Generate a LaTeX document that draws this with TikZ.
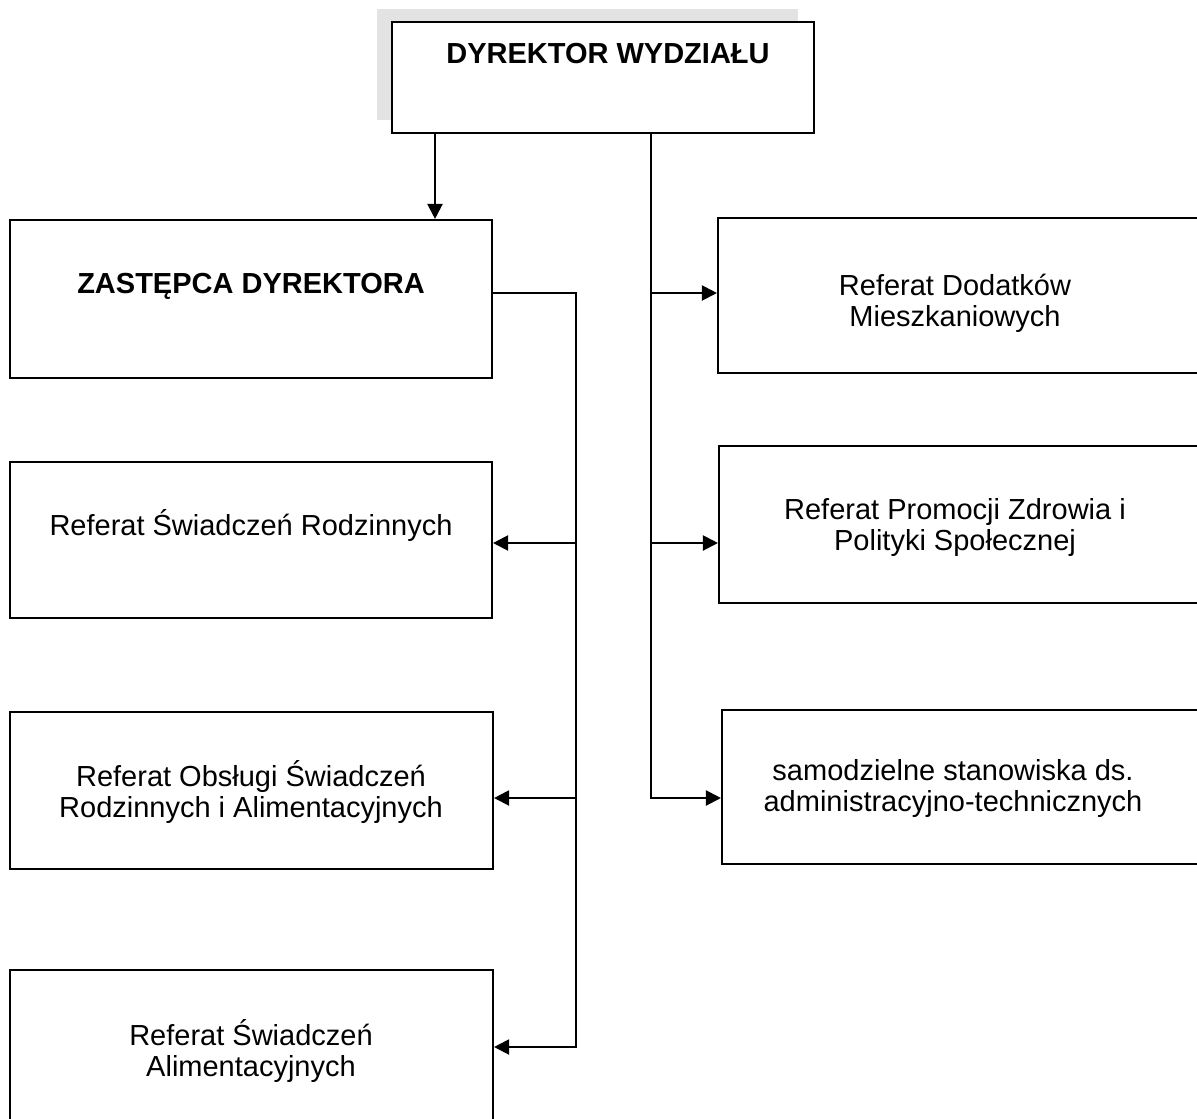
\documentclass[tikz,border=0pt]{standalone}
\usepackage{fontspec}
\setmainfont{Liberation Sans}
\usetikzlibrary{arrows.meta}
\begin{document}
\begin{tikzpicture}[x=1pt,y=-1pt,
  box/.style={draw=black,line width=2.1pt,rectangle,inner sep=0pt},
  txt/.style={font=\fontsize{29}{31}\selectfont,align=center,anchor=base,inner sep=0pt},
  btxt/.style={txt,font=\fontsize{29}{31}\selectfont\bfseries},
  wire/.style={line width=2.1pt,line join=miter},
  arr/.style={wire,-{Triangle[length=15pt,width=15pt]}}]
\useasboundingbox (0,0) rectangle (1197,1119);
\clip (0,0) rectangle (1197,1119);
\fill[white] (0,0) rectangle (1197,1119);

% grainy shadow behind the director's box
\fill[gray!22] (377,9) rectangle (798,23);
\fill[gray!22] (377,9) rectangle (393,120);

% boxes
\node[box,minimum width=422pt,minimum height=111pt] (D)  at (603,77.5) {};
\node[box,minimum width=482pt,minimum height=158pt] (Z)  at (251,299) {};
\node[box,minimum width=482pt,minimum height=156pt] (R1) at (251,540) {};
\node[box,minimum width=483pt,minimum height=157pt] (R2) at (251.5,790.5) {};
\node[box,minimum width=483pt,minimum height=160pt] (R3) at (251.5,1050) {};
\node[box,minimum width=482pt,minimum height=155pt] (P1) at (959,295.5) {};
\node[box,minimum width=481pt,minimum height=157pt] (P2) at (959.5,524.5) {};
\node[box,minimum width=478pt,minimum height=154pt] (P3) at (961,787) {};

% texts (base anchor sits on the last line's baseline)
\node[btxt] (Dt)  at (608,63)  {DYREKTOR WYDZIAŁU};
\node[btxt] (Zt)  at (251,293) {ZASTĘPCA DYREKTORA};
\node[txt]  (R1t) at (251,535) {Referat Świadczeń Rodzinnych};
\node[txt]  (R2t) at (251,817) {Referat Obsługi Świadczeń\\Rodzinnych i Alimentacyjnych};
\node[txt]  (R3t) at (251,1076) {Referat Świadczeń\\Alimentacyjnych};
\node[txt]  (P1t) at (955,326) {Referat Dodatków\\Mieszkaniowych};
\node[txt]  (P2t) at (955,550) {Referat Promocji Zdrowia i\\Polityki Społecznej};
\node[txt]  (P3t) at (953,811) {samodzielne stanowiska ds.\\administracyjno-technicznych};

% junction points of the two buses
\coordinate (dl) at (435,133);
\coordinate (dr) at (651,133);
\coordinate (z0) at (576,293);
\coordinate (j1) at (576,543);
\coordinate (j2) at (576,798);
\coordinate (j3) at (576,1047);
\coordinate (k1) at (651,293);
\coordinate (k2) at (651,543);
\coordinate (k3) at (651,798);

% director -> deputy
\draw[arr] (dl) -- (dl |- Z.north);
% deputy -> left units
\draw[arr] (z0 -| Z.east) -- (z0) -- (j3) -- (j3 -| R3.east);
\draw[arr] (j1) -- (j1 -| R1.east);
\draw[arr] (j2) -- (j2 -| R2.east);
% director -> right units
\draw[arr] (dr) -- (k3) -- (k3 -| P3.west);
\draw[arr] (k1) -- (k1 -| P1.west);
\draw[arr] (k2) -- (k2 -| P2.west);
\end{tikzpicture}
\end{document}
